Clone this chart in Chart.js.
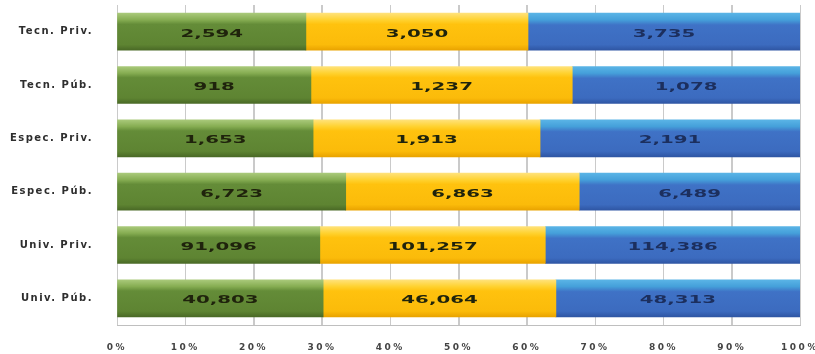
<!DOCTYPE html>
<html>
<head>
<meta charset="utf-8">
<script src="https://cdn.jsdelivr.net/npm/chart.js@4.4.4/dist/chart.umd.min.js"></script>
<style>
  html, body { margin: 0; padding: 0; background: #fff; }
  #wrap { width: 815px; height: 354px; position: relative; }
</style>
</head>
<body>
<div id="wrap"><canvas id="c"></canvas></div>
<script>
// 100% stacked bars, three groups per institution type; counts shown inside each segment.
const categories = ['Tecn. Priv.', 'Tecn. Púb.', 'Espec. Priv.', 'Espec. Púb.', 'Univ. Priv.', 'Univ. Púb.'];
const greenValues = [2594, 918, 1653, 6723, 91096, 40803];
const yellowValues = [3050, 1237, 1913, 6863, 101257, 46064];
const blueValues = [3735, 1078, 2191, 6489, 114386, 48313];
const xTicks = ['0%', '10%', '20%', '30%', '40%', '50%', '60%', '70%', '80%', '90%', '100%'];

const totals = categories.map((_, i) => greenValues[i] + yellowValues[i] + blueValues[i]);
const pct = (arr) => arr.map((v, i) => (v / totals[i]) * 100);

const BAR = 37;
const FONT = '"DejaVu Sans", "Liberation Sans", Arial, sans-serif';

// vertical gradient per bar: light top stripe, main body, slightly darker bottom
function barFill(stops) {
    return (ctx) => {
        const chart = ctx.chart;
        const y = chart.scales.y;
        if (!y || ctx.dataIndex === undefined) return stops[2][1];
        const cy = y.getPixelForValue(ctx.dataIndex);
        if (!Number.isFinite(cy)) return stops[2][1];
        const top = cy - BAR / 2;
        const g = chart.ctx.createLinearGradient(0, top, 0, top + BAR);
        for (const [o, c] of stops) g.addColorStop(o, c);
        return g;
    };
}

const greenFill = barFill([[0, '#a9c97a'], [0.18, '#86ad52'], [0.3, '#648c38'], [0.85, '#5e8432'], [1, '#4a6a26']]);
const yellowFill = barFill([[0, '#ffe27a'], [0.18, '#ffd230'], [0.3, '#ffc20e'], [0.85, '#fbbb0a'], [1, '#e9a300']]);
const blueFill = barFill([[0, '#5ab4e6'], [0.18, '#45a0da'], [0.32, '#3f72c6'], [0.85, '#3c6bbf'], [1, '#2f56a4']]);

const counts = [greenValues, yellowValues, blueValues];

// the source text is stretched wide; space out the axis labels only while they are drawn
const wideTicks = {
    id: 'wideTicks',
    afterLayout(chart) {
        const spacing = { x: '2.5px', y: '1.5px' };
        for (const id of Object.keys(spacing)) {
            const s = chart.scales[id];
            if (!s || s._wide) continue;
            const orig = s.drawLabels;
            s.drawLabels = function (area) {
                const c = this.ctx;
                c.save();
                c.letterSpacing = spacing[id];
                orig.call(this, area);
                c.restore();
            };
            s._wide = true;
        }
    },
};

// light vertical gridlines at the x scale's ticks, under the bars
const xGrid = {
    id: 'xGrid',
    beforeDatasetsDraw(chart) {
        const { ctx, chartArea, scales } = chart;
        ctx.save();
        ctx.strokeStyle = '#cacaca';
        ctx.lineWidth = 1;
        ctx.beginPath();
        for (const t of scales.x.ticks) {
            const px = Math.round(scales.x.getPixelForValue(t.value)) + 0.5;
            ctx.moveTo(px, chartArea.top);
            ctx.lineTo(px, chartArea.bottom);
        }
        ctx.stroke();
        ctx.restore();
    },
};

// writes the raw counts centred on each segment, stretched horizontally like the source
const valueLabels = {
    id: 'valueLabels',
    afterDatasetsDraw(chart) {
        const { ctx } = chart;
        ctx.save();
        ctx.font = `bold 11px ${FONT}`;
        ctx.textAlign = 'center';
        ctx.textBaseline = 'middle';
        chart.data.datasets.forEach((ds, di) => {
            const meta = chart.getDatasetMeta(di);
            meta.data.forEach((bar, i) => {
                const cx = (bar.x + bar.base) / 2;
                ctx.save();
                ctx.translate(cx, bar.y + 2);
                ctx.scale(1.8, 1);
                ctx.fillStyle = di === 2 ? '#1c2f5e' : '#1f230c';
                ctx.fillText(counts[di][i].toLocaleString('en-US'), 0, 0);
                ctx.restore();
            });
        });
        ctx.restore();
    },
};

new Chart(document.getElementById('c'), {
    type: 'bar',
    data: {
        labels: categories,
        datasets: [
            { label: 'A', data: pct(greenValues), backgroundColor: greenFill },
            { label: 'B', data: pct(yellowValues), backgroundColor: yellowFill },
            { label: 'C', data: pct(blueValues), backgroundColor: blueFill },
        ],
    },
    options: {
        indexAxis: 'y',
        responsive: true,
        maintainAspectRatio: false,
        animation: false,
        layout: { padding: { top: 5, right: 15, left: 0, bottom: 0 } },
        datasets: { bar: { barThickness: BAR, borderWidth: 0 } },
        plugins: { legend: { display: false }, tooltip: { enabled: false } },
        scales: {
            x: {
                stacked: true,
                min: 0,
                max: 100,
                afterFit(s) { s.height = 29; s.paddingLeft = 0; s.paddingRight = 0; },
                afterBuildTicks(s) { s.ticks = xTicks.map((_, i) => ({ value: i * 10 })); },
                grid: { color: '#cacaca', drawTicks: false },
                border: { color: '#bfbfbf' },
                ticks: {
                    padding: 17,
                    color: '#444',
                    font: { size: 9, weight: 'bold', family: FONT },
                    callback: (v, i) => xTicks[i],
                },
            },
            y: {
                stacked: true,
                afterFit(s) { s.width = 117; s.paddingTop = 0; s.paddingBottom = 0; },
                grid: { display: false },
                border: { color: '#bfbfbf' },
                ticks: {
                    padding: 16,
                    color: '#2e2e2e',
                    font: { size: 10, weight: 'bold', family: FONT },
                },
            },
        },
    },
    plugins: [wideTicks, xGrid, valueLabels],
});
</script>
</body>
</html>
